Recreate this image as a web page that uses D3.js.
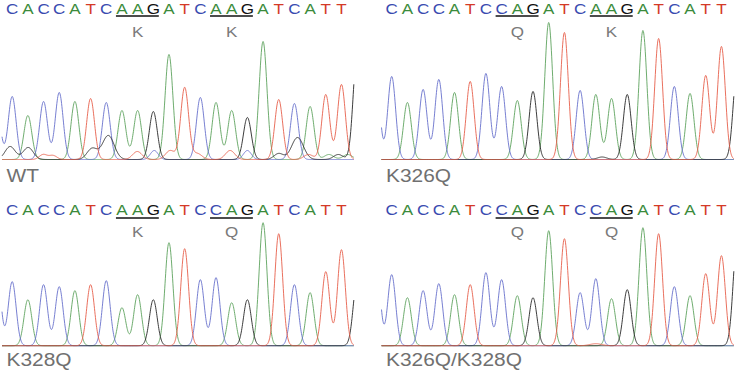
<!DOCTYPE html>
<html>
<head>
<meta charset="utf-8">
<script src="https://cdn.jsdelivr.net/npm/d3@7"></script>
<style>
  body { margin: 0; background: #fff; }
  svg { display: block; }
</style>
</head>
<body>
<svg id="chart"></svg>
<script>
// called bases, one per main peak
const basesWT    = "CACCATCAAGATCAAGATCATT".split("");
const basesK326Q = "CACCATCCAGATCAAGATCATT".split("");
const basesK328Q = "CACCATCAAGATCCAGATCATT".split("");
const basesDbl   = "CACCATCCAGATCCAGATCATT".split("");

// main peak heights (signal units), one per called base
const heightsWT    = [63, 44, 58, 67, 58, 61, 57, 49, 49, 48, 105, 72, 62, 57, 49, 42, 118, 60, 56, 53, 65, 75];
const heightsK326Q = [83, 57, 70, 80, 67, 78, 86, 73, 59, 68, 137, 127, 69, 65, 61, 65, 129, 121, 73, 66, 84, 113];
const heightsK328Q = [64, 46, 61, 59, 55, 61, 65, 38, 51, 46, 103, 97, 66, 68, 43, 46, 123, 112, 61, 53, 74, 96];
const heightsDbl   = [71, 48, 55, 62, 51, 61, 73, 66, 50, 48, 115, 107, 53, 67, 47, 56, 118, 112, 59, 50, 72, 90];

// other peaks: [base, position (base index), height, spread]
const extraWT = [
  ["C", -1, 55, 1], ["G", 22, 107, 1],
  ["G", -0.13, 13, 1.3], ["G", 1.02, 12, 1.3], ["T", 1.98, 5, 1], ["T", 2.6, 4, 1],
  ["G", 5.1, 11, 1.3], ["G", 6.13, 24, 1.5], ["T", 7.98, 8, 1.2], ["C", 9.06, 9, 1],
  ["T", 10.08, 9, 1.2], ["T", 11.8, 6, 1.2], ["T", 13.9, 9, 1.2], ["C", 15.0, 9, 1],
  ["G", 17.0, 6, 1.2], ["G", 18.2, 22, 1.5], ["T", 18.9, 5, 1.2], ["A", 20.2, 5, 1.2],
  ["G", 20.8, 5, 1.2], ["A", 21.4, 5, 1.2]
];
const extraK326Q = [["C", -1.05, 105, 1], ["G", 22, 90, 1], ["G", 13.4, 2.5, 1.2]];
const extraK328Q = [["C", -1, 85, 1], ["G", 22, 65, 1]];
const extraDbl   = [["C", -1, 90, 1], ["G", 22, 106, 1], ["T", 13.0, 2, 1.5]];

// codons and their amino acids
const codonStarts = [7, 13];
const aaWT    = ["K", "K"];
const aaK326Q = ["Q", "K"];
const aaK328Q = ["K", "Q"];
const aaDbl   = ["Q", "Q"];

const panelNames = ["WT", "K326Q", "K328Q", "K326Q/K328Q"];

// ---- layout / style ----
const W = 737, H = 370;
const font = "'Liberation Sans', Arial, Helvetica, sans-serif";
const traceColor = {A: "#5ea35e", C: "#6870cc", G: "#262626", T: "#e6604c"};
const letterColor = {A: "#3b8b3b", C: "#3a4bb0", G: "#111111", T: "#d43a27"};
const drawOrder = ["A", "C", "G", "T"];
const cols = [[2, 354], [381.5, 734]];
const rows = [
  {letter: 14.3, under: 16, aa: 36.6, base: 159.5, label: 181.7},
  {letter: 215, under: 218, aa: 237.4, base: 345.7, label: 366}
];
const domain = [-0.65, 21.8];
const sigma = 0.25; // peak width in base units
const stretch = 1.1; // figure text is a bit wider than plain Arial

const panels = [
  {name: panelNames[0], bases: basesWT, heights: heightsWT, extra: extraWT, aa: aaWT, col: 0, row: 0},
  {name: panelNames[1], bases: basesK326Q, heights: heightsK326Q, extra: extraK326Q, aa: aaK326Q, col: 1, row: 0},
  {name: panelNames[2], bases: basesK328Q, heights: heightsK328Q, extra: extraK328Q, aa: aaK328Q, col: 0, row: 1},
  {name: panelNames[3], bases: basesDbl, heights: heightsDbl, extra: extraDbl, aa: aaDbl, col: 1, row: 1}
];

const svg = d3.select("#chart").attr("width", W).attr("height", H);

const place = (x, y) => `translate(${x},${y}) scale(${stretch},1)`;

panels.forEach(p => {
  const r = rows[p.row];
  const x = d3.scaleLinear().domain(domain).range(cols[p.col]);
  const y = d3.scaleLinear().domain([0, 140]).range([r.base, r.base - 140]);
  const g = svg.append("g");

  // peaks per channel
  const peaks = p.bases.map((b, i) => ({base: b, pos: i, h: p.heights[i], s: 1}))
    .concat(p.extra.map(e => ({base: e[0], pos: e[1], h: e[2], s: e[3]})));

  const samples = d3.range(domain[0], domain[1] + 1e-9, 0.02);
  const line = d3.line().x(d => x(d[0])).y(d => y(d[1]));

  drawOrder.forEach(ch => {
    const chPeaks = peaks.filter(k => k.base === ch);
    const pts = samples.map(t => {
      let v = 0;
      chPeaks.forEach(k => {
        const sd = sigma * k.s;
        v += k.h * Math.exp(-((t - k.pos) ** 2) / (2 * sd * sd));
      });
      return [t, v];
    });
    g.append("path")
      .datum(pts)
      .attr("fill", "none")
      .attr("stroke", traceColor[ch])
      .attr("stroke-width", 0.9)
      .attr("d", line);
  });

  // base calls
  g.selectAll("text.base")
    .data(p.bases)
    .join("text")
    .attr("class", "base")
    .attr("transform", (d, i) => place(x(i), r.letter))
    .attr("text-anchor", "middle")
    .attr("font-family", font)
    .attr("font-size", 15.5)
    .attr("fill", d => letterColor[d])
    .text(d => d);

  // codon underlines + amino acids
  codonStarts.forEach((c, j) => {
    g.append("line")
      .attr("x1", x(c) - 6).attr("x2", x(c + 2) + 5.5)
      .attr("y1", r.under).attr("y2", r.under)
      .attr("stroke", "#111").attr("stroke-width", 1.4);
    g.append("text")
      .attr("transform", place(x(c + 1), r.aa))
      .attr("text-anchor", "middle")
      .attr("font-family", font)
      .attr("font-size", 15.5)
      .attr("fill", "#7a7a7a")
      .text(p.aa[j]);
  });

  // panel label
  g.append("text")
    .attr("transform", place(cols[p.col][0] + 4.5, r.label))
    .attr("font-family", font)
    .attr("font-size", 19)
    .attr("fill", "#707070")
    .text(p.name);
});
</script>
</body>
</html>
